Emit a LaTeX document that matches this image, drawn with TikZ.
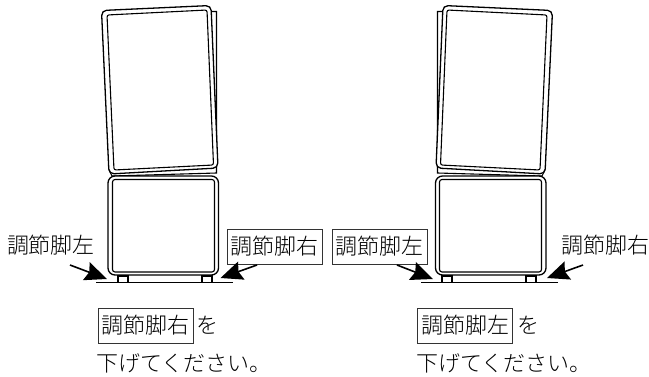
\documentclass[tikz,border=0pt]{standalone}
\usepackage{fontspec}
\setmainfont{Noto Sans CJK JP Light}
\usetikzlibrary{arrows.meta}
\tikzset{
  line/.style={draw=black,line width=1.1pt,fill=white},
  thick line/.style={draw=black,line width=1.3pt,fill=white},
  jp/.style={font=\fontsize{22}{22}\selectfont,inner sep=0pt,text=black},
  boxed/.style={jp,draw=black!80,line width=0.7pt,minimum width=95pt,minimum height=35pt},
  pointer/.style={draw=black,line width=1.6pt,-{Stealth[length=22pt,width=19pt,inset=3pt]}},
}
\newcommand{\standunit}{%
  \draw[line] (211,11.5) -- (216.5,11.5) -- (216.5,173) -- (112,176) -- (109,170) -- cycle;
  \draw[thick line,rounded corners=5pt] (101.5,10.5) -- (211,5.5) -- (218,168) -- (109,174) -- cycle;
  \draw[line,rounded corners=2pt] (107,15) -- (207,10) -- (213.5,165) -- (114,170) -- cycle;
  \draw[thick line,rounded corners=7pt] (108,176) rectangle (218.5,275);
  \draw[line,rounded corners=2.5pt] (112.5,179.5) rectangle (214.5,272);
  \draw[line] (118,276) rectangle (128,282.5);
  \draw[line] (202,276) rectangle (212,282.5);
  \draw[draw=black,line width=1.1pt] (96,282.5) -- (233,282.5);
}
\begin{document}
\begin{tikzpicture}[x=1pt,y=-1pt]
\useasboundingbox (0,0) rectangle (649,376);
\standunit
\begin{scope}[xshift=654pt,xscale=-1]
\standunit
\end{scope}
\node[jp] (ll) at (51,245) {調節脚左};
\node[boxed] (lr) at (274.5,246.5) {調節脚右};
\node[boxed] (rl) at (379.5,246.5) {調節脚左};
\node[jp] (rr) at (605,245) {調節脚右};
\coordinate (a1s) at (70,265); \coordinate (a1e) at (107,279);
\coordinate (a2s) at (257,265); \coordinate (a2e) at (220.5,278);
\coordinate (a3s) at (397,265); \coordinate (a3e) at (433,279);
\coordinate (a4s) at (583,265); \coordinate (a4e) at (547,278);
\draw[pointer] (a1s) -- (a1e);
\draw[pointer] (a2s) -- (a2e);
\draw[pointer] (a3s) -- (a3e);
\draw[pointer] (a4s) -- (a4e);
\node[boxed] (bl) at (145.5,325.5) {調節脚右};
\node[jp] (blo) at (207,325) {を};
\node[jp] (blt) at (184,363) {下げてください。};
\node[boxed] (br) at (465,325.5) {調節脚左};
\node[jp] (bro) at (528,325) {を};
\node[jp] (brt) at (504,363) {下げてください。};
\end{tikzpicture}
\end{document}
